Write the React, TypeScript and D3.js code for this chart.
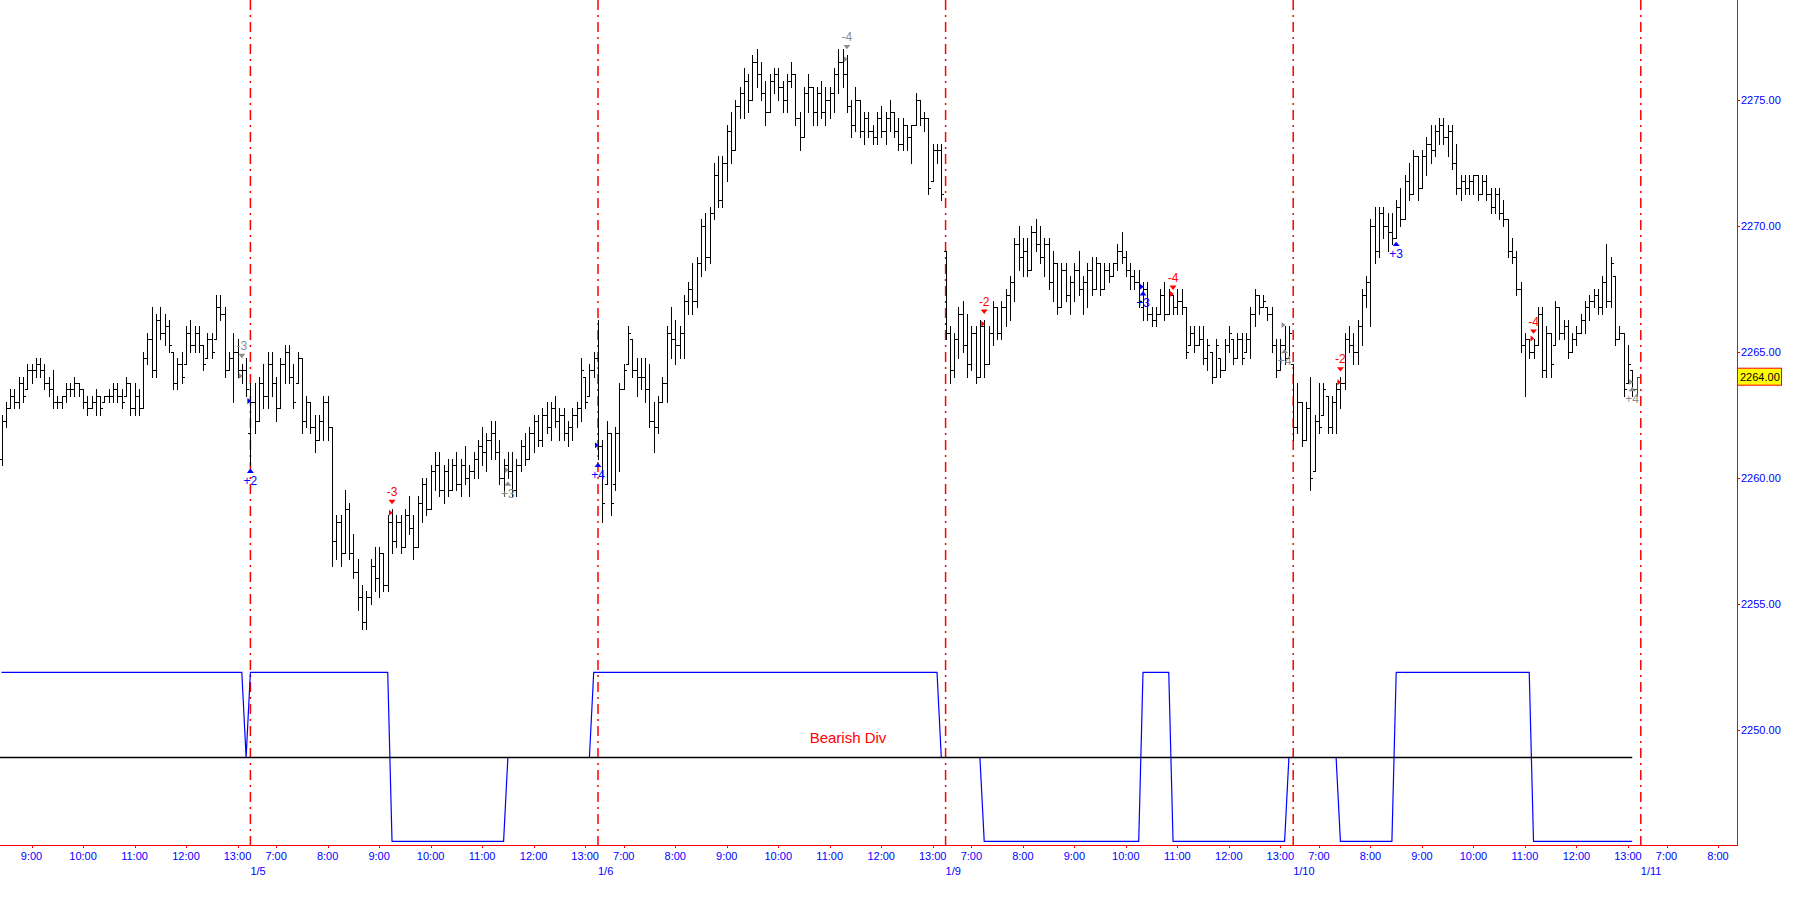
import React from 'react';
import * as d3 from 'd3';

type Bar = [number, number, number, number]; // open, high, low, close

const sessionDates = ['1/4', '1/5', '1/6', '1/9', '1/10', '1/11'];
const hourTicks = [7, 8, 9, 10, 11, 12, 13];
const priceTicks = [2250, 2255, 2260, 2265, 2270, 2275];
const lastPrice = 2264.0;
const divLabel = 'Bearish Div';

// 5-minute bars, sessions 6:30-13:15
const s0104: Bar[] = [
  [2260.75, 2262.5, 2260.5, 2262.25], [2262.25, 2263.0, 2262.0, 2262.75], [2262.75, 2263.5, 2262.75, 2263.25],
  [2263.25, 2263.5, 2262.75, 2263.0], [2263.0, 2264.0, 2262.75, 2263.75], [2263.75, 2264.0, 2263.0, 2263.25],
  [2263.5, 2264.5, 2263.5, 2264.25], [2264.25, 2264.5, 2263.75, 2264.25], [2264.25, 2264.75, 2264.0, 2264.5],
  [2264.5, 2264.75, 2264.0, 2264.25], [2264.25, 2264.5, 2263.5, 2263.75], [2263.75, 2264.0, 2263.25, 2263.5],
  [2263.5, 2264.25, 2262.75, 2263.0], [2263.0, 2263.25, 2262.75, 2263.0], [2263.0, 2263.25, 2262.75, 2263.25],
  [2263.25, 2263.75, 2263.0, 2263.5], [2263.5, 2263.75, 2263.25, 2263.5], [2263.5, 2264.0, 2263.25, 2263.75],
  [2263.75, 2263.75, 2263.25, 2263.5], [2263.5, 2263.5, 2262.75, 2263.0], [2263.0, 2263.25, 2262.5, 2262.75],
  [2262.75, 2263.25, 2262.75, 2263.0], [2263.0, 2263.5, 2262.5, 2263.25], [2263.25, 2263.25, 2262.5, 2262.75],
  [2263.0, 2263.25, 2263.0, 2263.25], [2263.25, 2263.5, 2263.0, 2263.25], [2263.25, 2263.75, 2263.0, 2263.5],
  [2263.5, 2263.75, 2263.0, 2263.25], [2263.25, 2263.5, 2262.75, 2263.0], [2263.25, 2264.0, 2263.25, 2263.75],
  [2263.75, 2263.75, 2262.5, 2262.75], [2262.75, 2263.75, 2262.5, 2263.25], [2263.25, 2263.5, 2262.5, 2262.75],
  [2262.75, 2265.0, 2262.75, 2264.75], [2264.75, 2265.75, 2264.5, 2265.5], [2265.5, 2266.75, 2264.0, 2264.25],
  [2264.25, 2266.5, 2264.0, 2266.25], [2266.25, 2266.75, 2265.5, 2265.75], [2265.75, 2266.5, 2265.25, 2266.0],
  [2266.0, 2266.25, 2265.0, 2265.25], [2265.0, 2265.0, 2263.5, 2263.75], [2263.75, 2264.75, 2263.5, 2264.5],
  [2264.5, 2265.0, 2263.75, 2264.0], [2264.5, 2266.0, 2264.5, 2265.75], [2265.75, 2266.25, 2265.0, 2265.25],
  [2265.25, 2266.0, 2265.0, 2265.75], [2265.75, 2266.0, 2265.0, 2265.25], [2265.25, 2265.25, 2264.25, 2264.5],
  [2264.75, 2265.75, 2264.75, 2265.5], [2265.5, 2265.75, 2264.75, 2265.0], [2265.5, 2267.25, 2265.5, 2266.75],
  [2266.75, 2267.25, 2266.25, 2266.5], [2266.5, 2266.75, 2264.0, 2264.25], [2264.25, 2265.0, 2264.25, 2264.75],
  [2264.75, 2265.75, 2263.0, 2265.0], [2265.0, 2265.5, 2264.0, 2264.25], [2264.25, 2264.5, 2263.75, 2264.25],
  [2264.25, 2264.75, 2263.25, 2263.5],
];

const s0105: Bar[] = [
  [2261.75, 2263.75, 2260.5, 2263.0], [2263.0, 2263.75, 2261.75, 2262.25], [2262.25, 2264.0, 2262.25, 2263.75],
  [2263.75, 2264.5, 2262.75, 2263.25], [2263.25, 2265.0, 2262.75, 2264.5], [2264.5, 2265.0, 2263.25, 2263.75],
  [2263.75, 2264.0, 2262.25, 2262.75], [2262.75, 2264.75, 2262.75, 2264.5], [2264.5, 2265.25, 2263.75, 2265.0],
  [2265.0, 2265.25, 2263.75, 2264.0], [2264.0, 2264.5, 2262.75, 2263.0], [2263.75, 2265.0, 2263.75, 2264.75],
  [2264.75, 2264.75, 2261.75, 2262.25], [2262.25, 2263.25, 2262.0, 2263.0], [2263.0, 2263.0, 2261.75, 2262.0],
  [2262.0, 2262.5, 2261.0, 2261.5], [2261.5, 2262.5, 2261.5, 2262.25], [2262.25, 2263.25, 2261.5, 2263.0],
  [2263.0, 2263.25, 2261.5, 2262.0], [2262.0, 2262.0, 2256.5, 2257.5], [2257.5, 2258.5, 2256.75, 2258.25],
  [2258.25, 2258.5, 2256.5, 2257.0], [2257.0, 2259.5, 2257.0, 2258.75], [2258.75, 2259.0, 2256.75, 2257.0],
  [2257.0, 2257.75, 2256.0, 2256.25], [2256.25, 2256.75, 2254.75, 2255.25], [2255.25, 2255.75, 2254.0, 2254.25],
  [2254.25, 2255.5, 2254.0, 2255.25], [2255.25, 2256.75, 2255.0, 2256.5], [2256.5, 2257.25, 2255.5, 2256.0],
  [2256.0, 2257.25, 2255.25, 2257.0], [2257.0, 2257.0, 2255.5, 2255.75], [2255.75, 2258.5, 2255.5, 2258.25],
  [2258.25, 2258.75, 2257.0, 2257.5], [2257.5, 2258.5, 2257.25, 2258.25], [2258.25, 2258.5, 2257.0, 2257.25],
  [2257.25, 2258.75, 2257.25, 2258.5], [2258.5, 2259.25, 2257.75, 2258.0], [2258.0, 2258.5, 2256.75, 2257.25],
  [2257.25, 2259.25, 2257.25, 2259.0], [2259.0, 2260.0, 2258.25, 2259.75], [2259.75, 2260.0, 2258.5, 2258.75],
  [2258.75, 2260.5, 2258.75, 2260.25], [2260.25, 2261.0, 2259.5, 2260.5], [2260.5, 2261.0, 2259.25, 2259.5],
  [2259.5, 2260.5, 2259.0, 2260.25], [2260.25, 2260.75, 2259.25, 2259.5], [2259.5, 2260.75, 2259.5, 2260.5],
  [2260.5, 2261.0, 2259.5, 2259.75], [2259.75, 2260.75, 2259.25, 2260.5], [2260.5, 2261.25, 2259.75, 2260.0],
  [2260.0, 2260.5, 2259.25, 2260.25], [2260.25, 2261.0, 2260.0, 2260.75], [2260.75, 2261.5, 2260.0, 2261.25],
  [2261.25, 2262.0, 2260.5, 2261.0], [2261.0, 2261.75, 2260.25, 2261.5], [2261.5, 2262.25, 2260.75, 2261.75],
  [2261.75, 2262.25, 2260.75, 2261.0], [2261.0, 2261.5, 2259.75, 2260.0], [2260.0, 2260.75, 2259.25, 2260.5],
  [2260.5, 2261.0, 2260.0, 2260.25], [2260.25, 2261.0, 2259.25, 2259.5], [2259.5, 2260.75, 2259.25, 2260.5],
  [2260.5, 2261.5, 2260.25, 2261.25], [2261.25, 2261.75, 2260.5, 2260.75], [2260.75, 2262.0, 2260.75, 2261.75],
  [2261.75, 2262.5, 2261.0, 2262.25], [2262.25, 2262.5, 2261.25, 2261.5], [2261.5, 2262.75, 2261.25, 2262.5],
  [2262.5, 2263.0, 2261.75, 2262.0], [2262.0, 2263.0, 2261.5, 2262.75], [2262.75, 2263.25, 2262.0, 2262.25],
  [2262.25, 2262.75, 2261.5, 2262.5], [2262.5, 2262.75, 2261.5, 2261.75], [2261.75, 2262.25, 2261.25, 2262.0],
  [2262.0, 2262.75, 2261.5, 2262.5], [2262.5, 2263.0, 2262.0, 2262.75], [2262.75, 2264.75, 2262.25, 2264.25],
  [2264.0, 2264.0, 2262.75, 2263.0], [2263.25, 2264.5, 2263.25, 2264.25], [2264.25, 2265.0, 2264.0, 2264.75],
];

const s0106: Bar[] = [
  [2264.75, 2266.25, 2260.75, 2261.25], [2261.25, 2261.5, 2258.25, 2259.0], [2259.75, 2262.25, 2259.75, 2261.75],
  [2261.75, 2261.75, 2258.5, 2259.0], [2259.75, 2262.0, 2259.5, 2261.75], [2261.75, 2263.75, 2260.25, 2263.5],
  [2263.5, 2264.5, 2263.5, 2264.25], [2264.5, 2266.0, 2264.5, 2265.75], [2265.5, 2265.5, 2264.0, 2264.25],
  [2264.25, 2264.75, 2263.25, 2264.0], [2264.0, 2264.75, 2263.5, 2264.0], [2264.0, 2264.75, 2263.0, 2263.5],
  [2263.5, 2264.5, 2262.0, 2262.25], [2262.25, 2263.0, 2261.0, 2262.0], [2262.0, 2263.25, 2261.75, 2263.0],
  [2263.0, 2264.0, 2263.0, 2263.75], [2263.75, 2266.0, 2263.0, 2265.75], [2265.75, 2266.75, 2264.75, 2265.5],
  [2265.5, 2266.25, 2264.5, 2265.25], [2265.25, 2266.0, 2264.75, 2265.75], [2265.75, 2267.25, 2264.75, 2267.0],
  [2267.0, 2267.75, 2266.5, 2267.5], [2267.5, 2268.5, 2266.5, 2267.0], [2267.0, 2268.75, 2266.75, 2268.5],
  [2268.5, 2270.25, 2268.0, 2270.0], [2270.0, 2270.5, 2268.25, 2268.75], [2268.75, 2270.75, 2268.5, 2270.5],
  [2270.5, 2272.5, 2270.25, 2272.0], [2272.0, 2272.75, 2270.75, 2271.0], [2271.0, 2272.75, 2270.75, 2272.5],
  [2272.5, 2274.0, 2271.75, 2273.75], [2273.75, 2274.5, 2272.5, 2273.0], [2273.0, 2275.0, 2273.0, 2274.75],
  [2274.75, 2275.5, 2274.25, 2275.25], [2275.25, 2276.25, 2274.25, 2275.75], [2275.75, 2276.0, 2274.5, 2275.0],
  [2275.0, 2276.75, 2275.0, 2276.5], [2276.5, 2277.0, 2275.5, 2276.0], [2276.0, 2276.5, 2275.0, 2275.25],
  [2275.25, 2275.75, 2274.0, 2274.5], [2274.5, 2276.0, 2274.5, 2275.75], [2275.75, 2276.25, 2275.25, 2276.0],
  [2276.0, 2276.25, 2275.0, 2275.5], [2275.5, 2275.75, 2274.5, 2275.0], [2275.0, 2276.0, 2274.5, 2275.75],
  [2275.75, 2276.5, 2275.5, 2276.0], [2276.0, 2276.0, 2274.0, 2274.25], [2274.25, 2274.5, 2273.0, 2273.5],
  [2273.5, 2275.5, 2273.5, 2275.25], [2275.25, 2276.0, 2274.5, 2275.5], [2275.5, 2275.5, 2274.0, 2274.5],
  [2274.5, 2275.5, 2274.0, 2275.25], [2275.25, 2275.75, 2274.25, 2274.5], [2274.5, 2275.5, 2274.0, 2275.0],
  [2275.0, 2275.5, 2274.25, 2275.25], [2275.25, 2276.25, 2274.5, 2276.0], [2276.0, 2277.0, 2275.25, 2276.5],
  [2276.5, 2277.0, 2275.5, 2276.0], [2276.0, 2276.75, 2274.5, 2274.75], [2274.75, 2275.0, 2273.5, 2274.0],
  [2274.0, 2275.5, 2273.75, 2275.0], [2275.0, 2275.0, 2273.5, 2273.75], [2273.75, 2274.5, 2273.25, 2274.25],
  [2274.25, 2274.5, 2273.5, 2273.75], [2273.75, 2274.0, 2273.25, 2273.5], [2273.5, 2274.5, 2273.25, 2274.25],
  [2274.25, 2274.75, 2273.5, 2273.75], [2273.75, 2274.5, 2273.25, 2274.25], [2274.25, 2275.0, 2273.75, 2274.5],
  [2274.5, 2274.5, 2273.5, 2273.75], [2273.75, 2274.25, 2273.0, 2273.25], [2273.25, 2274.25, 2273.0, 2274.0],
  [2274.0, 2274.0, 2273.0, 2273.5], [2273.5, 2274.0, 2272.5, 2274.0], [2274.0, 2275.25, 2274.0, 2275.0],
  [2275.0, 2275.0, 2274.0, 2274.25], [2274.25, 2274.5, 2273.75, 2274.25], [2274.25, 2274.25, 2271.25, 2271.5],
  [2271.75, 2273.25, 2271.75, 2273.0], [2273.0, 2273.25, 2272.5, 2273.0], [2273.0, 2273.25, 2271.0, 2271.25],
];

const s0109: Bar[] = [
  [2269.0, 2269.0, 2265.5, 2265.75], [2265.75, 2266.0, 2263.75, 2264.25], [2264.25, 2265.75, 2264.0, 2265.5],
  [2265.5, 2266.75, 2264.75, 2266.5], [2266.5, 2267.0, 2265.0, 2265.25], [2265.25, 2266.5, 2264.0, 2264.5],
  [2264.5, 2266.0, 2264.25, 2265.75], [2265.75, 2266.0, 2263.75, 2264.0], [2264.0, 2266.25, 2264.0, 2266.0],
  [2266.0, 2266.25, 2264.0, 2264.5], [2264.5, 2266.0, 2264.5, 2265.75], [2265.75, 2267.0, 2265.25, 2266.75],
  [2266.75, 2266.75, 2265.5, 2265.75], [2265.75, 2267.0, 2265.5, 2266.75], [2266.75, 2267.5, 2266.0, 2267.25],
  [2267.25, 2268.0, 2266.25, 2267.75], [2267.75, 2269.5, 2267.0, 2269.25], [2269.25, 2270.0, 2268.25, 2268.75],
  [2268.75, 2269.5, 2268.0, 2269.0], [2269.0, 2269.5, 2268.0, 2268.25], [2268.25, 2270.0, 2268.25, 2269.75],
  [2269.75, 2270.25, 2269.0, 2269.25], [2269.25, 2270.0, 2268.5, 2268.75], [2268.75, 2269.5, 2268.0, 2269.25],
  [2269.25, 2269.5, 2267.5, 2267.75], [2267.75, 2269.0, 2267.0, 2268.5], [2268.5, 2268.5, 2266.5, 2266.75],
  [2266.75, 2268.5, 2266.75, 2268.25], [2268.25, 2268.5, 2267.0, 2267.25], [2267.25, 2268.0, 2266.5, 2267.75],
  [2267.75, 2268.5, 2267.0, 2268.25], [2268.25, 2269.0, 2267.25, 2267.5], [2267.5, 2268.0, 2266.5, 2267.75],
  [2267.75, 2268.5, 2266.75, 2268.25], [2268.25, 2268.75, 2267.25, 2267.5], [2267.5, 2268.75, 2267.5, 2268.5],
  [2268.5, 2268.5, 2267.25, 2267.5], [2267.5, 2268.5, 2267.5, 2268.25], [2268.25, 2268.5, 2267.75, 2268.0],
  [2268.0, 2268.5, 2268.0, 2268.5], [2268.5, 2269.25, 2268.25, 2269.0], [2269.0, 2269.75, 2268.5, 2268.75],
  [2268.75, 2269.0, 2268.0, 2268.25], [2268.25, 2268.5, 2267.5, 2268.0], [2268.0, 2268.25, 2267.5, 2267.75],
  [2267.75, 2268.25, 2266.75, 2267.0], [2266.75, 2267.75, 2266.25, 2267.5], [2267.5, 2267.75, 2266.25, 2266.5],
  [2266.5, 2266.75, 2266.0, 2266.25], [2266.25, 2266.75, 2266.0, 2266.5], [2266.5, 2267.5, 2266.5, 2267.25],
  [2267.25, 2267.75, 2266.25, 2266.5], [2266.5, 2267.5, 2266.5, 2267.25], [2267.25, 2267.25, 2266.5, 2266.75],
  [2266.75, 2267.5, 2266.5, 2267.0], [2267.0, 2267.5, 2266.5, 2266.75], [2266.75, 2266.75, 2264.75, 2265.0],
  [2265.25, 2266.0, 2265.25, 2265.75], [2265.75, 2266.0, 2265.0, 2265.25], [2265.25, 2266.0, 2265.25, 2265.5],
  [2265.5, 2266.0, 2264.5, 2264.75], [2264.75, 2265.5, 2264.25, 2265.25], [2265.0, 2265.0, 2263.75, 2264.0],
  [2264.0, 2265.5, 2264.0, 2265.25], [2264.75, 2264.75, 2264.0, 2264.25], [2264.25, 2265.5, 2264.25, 2265.25],
  [2265.25, 2266.0, 2265.0, 2265.75], [2265.5, 2265.5, 2264.5, 2264.75], [2264.75, 2265.75, 2264.75, 2265.5],
  [2265.5, 2265.75, 2264.5, 2264.75], [2265.0, 2265.75, 2265.0, 2265.5], [2265.5, 2266.75, 2264.75, 2266.5],
  [2266.5, 2267.5, 2266.0, 2267.25], [2267.25, 2267.25, 2266.5, 2266.75], [2266.75, 2267.25, 2266.75, 2267.0],
  [2266.75, 2266.75, 2266.25, 2266.5], [2266.5, 2266.75, 2265.0, 2265.25], [2265.25, 2265.5, 2264.0, 2264.25],
  [2264.25, 2265.5, 2264.25, 2265.25], [2265.25, 2266.0, 2264.5, 2264.75], [2264.75, 2266.0, 2264.75, 2265.75],
];

const s0110: Bar[] = [
  [2264.5, 2264.5, 2261.5, 2262.0], [2262.0, 2263.75, 2261.75, 2263.0], [2263.0, 2263.0, 2261.25, 2261.5],
  [2261.5, 2263.0, 2261.5, 2262.75], [2262.75, 2264.0, 2259.5, 2260.0], [2260.25, 2262.5, 2260.25, 2262.25],
  [2262.25, 2263.75, 2261.75, 2262.0], [2262.5, 2263.75, 2262.5, 2263.5], [2263.25, 2263.25, 2261.75, 2262.0],
  [2262.0, 2263.25, 2261.75, 2263.0], [2263.0, 2263.75, 2261.75, 2263.5], [2263.5, 2264.0, 2262.75, 2263.75],
  [2263.75, 2265.75, 2263.5, 2265.5], [2265.5, 2266.0, 2265.0, 2265.25], [2265.25, 2265.75, 2264.5, 2265.0],
  [2265.0, 2266.25, 2264.5, 2266.0], [2266.0, 2267.5, 2265.25, 2267.25], [2267.25, 2268.0, 2266.75, 2267.75],
  [2267.75, 2270.25, 2266.0, 2270.0], [2270.0, 2270.75, 2268.5, 2269.0], [2269.0, 2270.75, 2268.75, 2270.5],
  [2270.5, 2270.75, 2269.5, 2270.0], [2270.0, 2270.5, 2269.0, 2269.75], [2269.75, 2270.5, 2269.25, 2269.5],
  [2269.5, 2271.0, 2269.5, 2270.75], [2270.75, 2271.5, 2270.0, 2270.25], [2270.25, 2272.0, 2270.25, 2271.75],
  [2271.75, 2272.5, 2271.0, 2271.25], [2271.25, 2273.0, 2271.25, 2272.75], [2272.75, 2272.75, 2271.0, 2271.5],
  [2271.5, 2273.0, 2271.5, 2272.75], [2272.75, 2273.5, 2272.0, 2273.25], [2273.25, 2274.0, 2272.5, 2273.0],
  [2273.0, 2274.0, 2272.75, 2273.75], [2273.75, 2274.25, 2273.25, 2274.0], [2274.0, 2274.25, 2273.25, 2273.5],
  [2273.5, 2274.0, 2272.75, 2273.75], [2273.75, 2274.0, 2272.25, 2272.5], [2272.5, 2273.25, 2271.25, 2271.5],
  [2271.5, 2272.0, 2271.0, 2271.75], [2271.75, 2272.0, 2271.25, 2271.5], [2271.5, 2272.0, 2271.25, 2271.75],
  [2271.75, 2272.0, 2271.25, 2272.0], [2272.0, 2272.0, 2271.0, 2271.25], [2271.25, 2272.0, 2271.25, 2271.75],
  [2271.75, 2272.0, 2271.0, 2271.25], [2271.25, 2271.5, 2270.5, 2270.75], [2270.75, 2271.5, 2270.5, 2271.25],
  [2271.25, 2271.5, 2270.25, 2270.5], [2270.5, 2271.0, 2270.0, 2270.25], [2270.25, 2270.25, 2268.75, 2269.0],
  [2269.0, 2269.5, 2268.5, 2268.75], [2268.75, 2269.0, 2267.25, 2267.5], [2267.5, 2267.75, 2265.0, 2265.25],
  [2265.25, 2265.75, 2263.25, 2265.5], [2265.5, 2265.5, 2264.75, 2265.0], [2265.0, 2265.5, 2264.75, 2265.25],
  [2265.25, 2266.75, 2265.25, 2266.5], [2266.5, 2266.75, 2264.0, 2264.25], [2264.25, 2266.0, 2264.0, 2265.75],
  [2265.75, 2265.75, 2264.0, 2264.5], [2265.25, 2267.0, 2265.25, 2266.75], [2266.75, 2266.75, 2265.5, 2265.75],
  [2265.75, 2266.25, 2265.5, 2266.0], [2266.0, 2266.25, 2264.75, 2265.0], [2265.0, 2265.75, 2265.0, 2265.5],
  [2265.5, 2266.0, 2265.25, 2265.75], [2265.75, 2266.5, 2265.75, 2266.25], [2266.25, 2267.0, 2265.75, 2266.75],
  [2266.75, 2267.25, 2266.25, 2267.0], [2267.0, 2267.5, 2266.75, 2267.25], [2267.25, 2267.5, 2266.5, 2266.75],
  [2266.75, 2268.0, 2266.5, 2267.75], [2267.75, 2269.25, 2266.75, 2267.0], [2267.0, 2268.75, 2266.75, 2268.5],
  [2268.0, 2268.0, 2265.25, 2265.5], [2265.5, 2266.0, 2265.5, 2265.75], [2265.75, 2265.75, 2263.25, 2263.5],
  [2263.75, 2265.25, 2263.75, 2264.5], [2264.25, 2264.25, 2263.25, 2263.5], [2263.5, 2264.0, 2263.25, 2264.0],
];

// divergence state per bar as runs of [value, count]
const divRuns: [number, number][] = [
  [1, 57], [0, 1], [1, 33], [-1, 27], [0, 20], [1, 81], [0, 10], [-1, 37],
  [1, 7], [-1, 27], [0, 12], [-1, 13], [1, 32], [-1, 24],
];

// signal markers: session, bar index in session, triangle direction, triangle price, arrow price, label, colour
type Marker = { s: number; i: number; dir: 'up' | 'down'; tri: number; arrow: number | null; label: string; color: string };
const markers: Marker[] = [
  { s: 0, i: 56, dir: 'down', tri: 2264.82, arrow: 2264.03, label: '-3', color: '#8c8c8c' },
  { s: 1, i: 0, dir: 'up', tri: 2260.27, arrow: 2263.04, label: '+2', color: '#0000ff' },
  { s: 1, i: 33, dir: 'down', tri: 2259.03, arrow: 2258.6, label: '-3', color: '#ff0000' },
  { s: 1, i: 60, dir: 'up', tri: 2259.76, arrow: 2260.3, label: '+3', color: '#8c8c8c' },
  { s: 2, i: 0, dir: 'up', tri: 2260.5, arrow: 2261.28, label: '+4', color: '#0000ff' },
  { s: 2, i: 58, dir: 'down', tri: 2277.08, arrow: 2276.6, label: '-4', color: '#8c8c8c' },
  { s: 3, i: 9, dir: 'down', tri: 2266.58, arrow: 2266.1, label: '-2', color: '#ff0000' },
  { s: 3, i: 46, dir: 'up', tri: 2267.31, arrow: 2267.57, label: '+3', color: '#0000ff' },
  { s: 3, i: 53, dir: 'down', tri: 2267.53, arrow: 2267.28, label: '-4', color: '#ff0000' },
  { s: 3, i: 79, dir: 'up', tri: 2265.02, arrow: 2266.05, label: '+4', color: '#8c8c8c' },
  { s: 4, i: 11, dir: 'down', tri: 2264.29, arrow: 2263.78, label: '-2', color: '#ff0000' },
  { s: 4, i: 24, dir: 'up', tri: 2269.27, arrow: null, label: '+3', color: '#0000ff' },
  { s: 4, i: 56, dir: 'down', tri: 2265.79, arrow: 2265.52, label: '-4', color: '#ff0000' },
  { s: 4, i: 79, dir: 'up', tri: 2263.51, arrow: 2263.79, label: '+4', color: '#8c8c8c' },
];

const sessions = [s0104, s0105, s0106, s0109, s0110];

const FONT = '"Liberation Sans", Arial, sans-serif';

export default function App() {
  const W = 1797;
  const H = 905;
  const axisX = 1737;
  const axisY = 845;
  const SESSION_MIN = 405; // 6:30 - 13:15
  const OPEN_MIN = 390;
  const BARS_PER_SESSION = 81;
  const pxPerMin = 347.6 / SESSION_MIN;
  const firstSepX = 250.4;

  const x = d3
    .scaleLinear()
    .domain([SESSION_MIN - firstSepX / pxPerMin, SESSION_MIN + (axisX - firstSepX) / pxPerMin])
    .range([0, axisX]);
  const y = d3.scaleLinear().domain([2250, 2275]).range([729.5, 99.5]);
  const yi = d3.scaleLinear().domain([-1, 1]).range([841.3, 672.3]);

  const bars = sessions.flatMap((arr, s) => {
    const k0 = BARS_PER_SESSION - arr.length;
    return arr.map((b, i) => ({ s, i, u: s * SESSION_MIN + (k0 + i) * 5, o: b[0], h: b[1], l: b[2], c: b[3] }));
  });
  const barIndex = (s: number, i: number) => bars.findIndex((b) => b.s === s && b.i === i);

  const divVals: number[] = divRuns.flatMap(([v, n]) => Array.from({ length: n }, () => v));
  const divPts: [number, number][] = divVals.map((v, g) => [x(bars[g].u), yi(v)]);
  const line = d3.line();
  const zeroY = Math.round(yi(0)) + 0.5;

  const sepXs = sessionDates.slice(1).map((_, k) => x((k + 1) * SESSION_MIN));
  const timeTicks: { xv: number; label: string }[] = [];
  sessionDates.forEach((_, s) => {
    hourTicks.forEach((h) => {
      const xv = x(s * SESSION_MIN + h * 60 - OPEN_MIN);
      if (xv >= 5 && xv <= axisX - 5) timeTicks.push({ xv, label: `${h}:00` });
    });
  });

  return (
    <svg
      width={W}
      height={H}
      style={{ position: 'absolute', left: 0, top: 0, background: '#fff' }}
      fontFamily={FONT}
    >
      <rect x={0} y={0} width={W} height={H} fill="#fff" />
      {/* session separators */}
      {sepXs.map((sx, k) => (
        <line
          key={`sep${k}`}
          x1={sx}
          x2={sx}
          y1={0}
          y2={axisY}
          stroke="#ff0000"
          strokeWidth={1.5}
          strokeDasharray="10,5,2,5"
        />
      ))}
      {/* divergence state and zero line */}
      <path
        d={line(divPts.map(([px, py]) => [px, Math.abs(py - yi(0)) < 0.01 ? zeroY : py])) || ''}
        fill="none"
        stroke="#0000ff"
        strokeWidth={1.2}
      />
      <line
        x1={0}
        x2={divPts[divPts.length - 1][0]}
        y1={zeroY}
        y2={zeroY}
        stroke="#000"
        strokeWidth={1.6}
      />
      <text x={848} y={737} fill="#ff0000" fontSize={15} textAnchor="middle" dominantBaseline="central">
        {divLabel}
      </text>
      {/* price bars */}
      <g shapeRendering="crispEdges">
        {bars.map((b, g) => {
          const xr = Math.round(x(b.u));
          const yh = Math.round(y(b.h));
          const yl = Math.round(y(b.l));
          const col = g === bars.length - 1 ? '#008000' : '#000';
          return (
            <g key={`b${g}`} fill={col}>
              <rect x={xr} y={yh} width={1} height={yl - yh + 1} />
              <rect x={xr - 2} y={Math.round(y(b.o))} width={2} height={1} />
              <rect x={xr + 1} y={Math.round(y(b.c))} width={2} height={1} />
            </g>
          );
        })}
      </g>
      {/* signal markers */}
      {markers.map((m, k) => {
        const g = barIndex(m.s, m.i);
        const bx = x(bars[g].u);
        const ty = y(m.tri);
        const tri =
          m.dir === 'down'
            ? `M${bx - 3.5},${ty - 2.2}L${bx + 3.5},${ty - 2.2}L${bx},${ty + 2.2}Z`
            : `M${bx - 3.5},${ty + 2.2}L${bx + 3.5},${ty + 2.2}L${bx},${ty - 2.2}Z`;
        const ay = m.arrow !== null ? y(m.arrow) : 0;
        return (
          <g key={`m${k}`} fill={m.color}>
            <path d={tri} />
            {m.arrow !== null && <path d={`M${bx - 3},${ay - 3}L${bx + 0.8},${ay}L${bx - 3},${ay + 3}Z`} />}
            <text
              x={bx}
              y={m.dir === 'down' ? ty - 10 : ty + 10}
              fontSize={12}
              textAnchor="middle"
              dominantBaseline="central"
            >
              {m.label}
            </text>
          </g>
        );
      })}
      {/* axes */}
      <g shapeRendering="crispEdges">
        <line x1={0} x2={axisX + 0.5} y1={axisY + 0.5} y2={axisY + 0.5} stroke="#ff0000" strokeWidth={1} />
        <line x1={axisX + 0.5} x2={axisX + 0.5} y1={0} y2={axisY + 0.5} stroke="#ff0000" strokeWidth={1} />
        {priceTicks.map((p) => (
          <line key={`yt${p}`} x1={axisX} x2={axisX + 3} y1={Math.round(y(p)) + 0.5} y2={Math.round(y(p)) + 0.5} stroke="#ff0000" />
        ))}
        {timeTicks.map((t, k) => (
          <line key={`xt${k}`} x1={Math.round(t.xv) + 0.5} x2={Math.round(t.xv) + 0.5} y1={axisY} y2={axisY + 3} stroke="#ff0000" />
        ))}
      </g>
      {priceTicks.map((p) => (
        <text key={`yl${p}`} x={axisX + 4} y={y(p)} fontSize={11} fill="#0000ff" dominantBaseline="central">
          {p.toFixed(2)}
        </text>
      ))}
      {timeTicks.map((t, k) => (
        <text key={`xl${k}`} x={t.xv} y={860} fontSize={11} fill="#0000ff" textAnchor="middle">
          {t.label}
        </text>
      ))}
      {sepXs.map((sx, k) => (
        <text key={`dl${k}`} x={sx} y={875} fontSize={11} fill="#0000ff">
          {sessionDates[k + 1]}
        </text>
      ))}
      {/* last price label */}
      <rect x={axisX + 0.5} y={y(lastPrice) - 8.5} width={44} height={17} fill="#ffff00" stroke="#ff0000" strokeWidth={1} />
      <text x={axisX + 3} y={y(lastPrice)} fontSize={11} fill="#000" dominantBaseline="central">
        {lastPrice.toFixed(2)}
      </text>
    </svg>
  );
}
